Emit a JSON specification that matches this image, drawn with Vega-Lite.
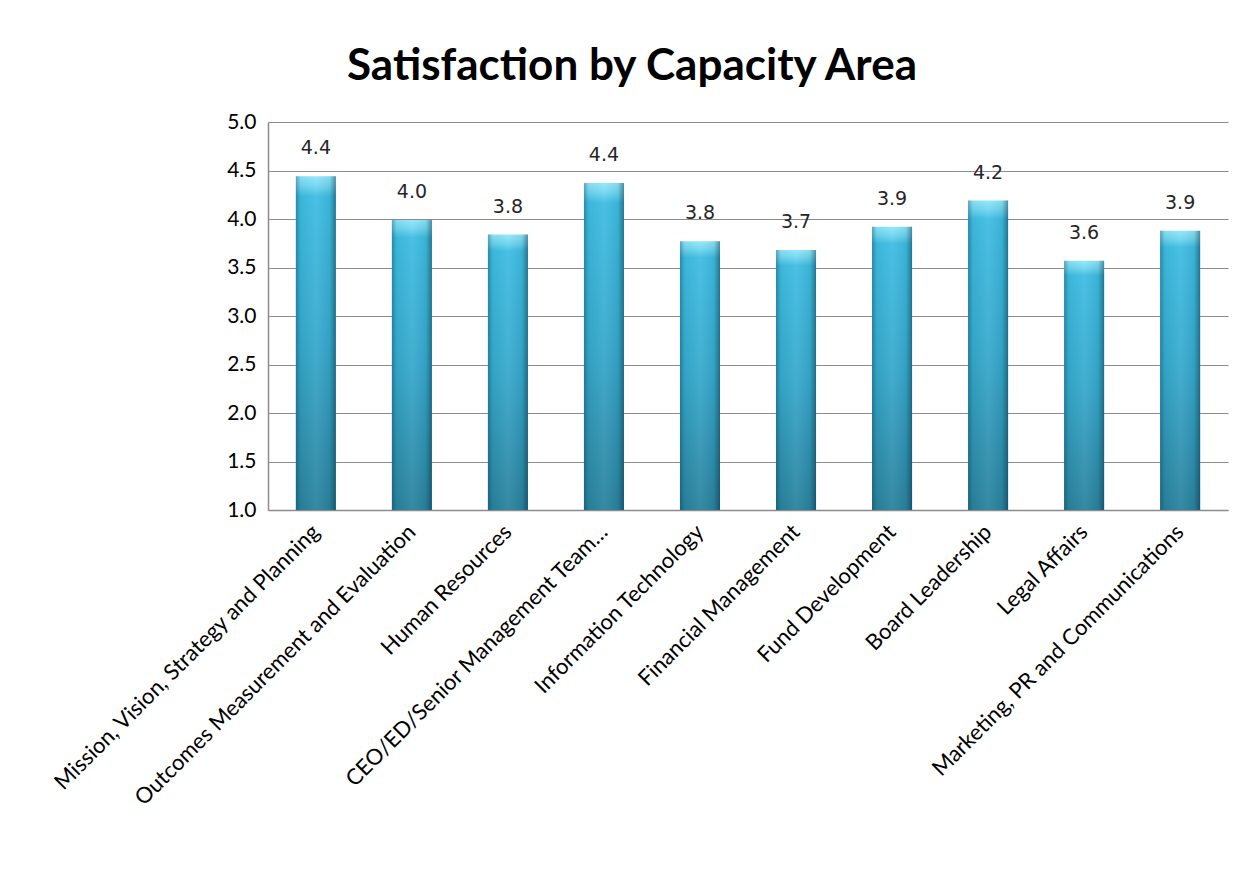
{
  "$schema": "https://vega.github.io/schema/vega-lite/v6.json",
  "autosize": {"type": "none"},
  "width": 960,
  "height": 388,
  "padding": {"left": 268, "top": 122, "right": 18, "bottom": 381},
  "background": "white",
  "title": {
    "text": "Satisfaction by Capacity Area",
    "anchor": "middle",
    "frame": "group",
    "dx": -116,
    "offset": 22,
    "font": "Lato",
    "fontSize": 44,
    "fontWeight": "bold",
    "color": "#000000"
  },
  "data": {
    "values": [
      {"area": "Mission, Vision, Strategy and Planning", "score": 4.44},
      {"area": "Outcomes Measurement and Evaluation", "score": 3.99},
      {"area": "Human Resources", "score": 3.84},
      {"area": "CEO/ED/Senior Management Team…", "score": 4.37},
      {"area": "Information Technology", "score": 3.77},
      {"area": "Financial Management", "score": 3.68},
      {"area": "Fund Development", "score": 3.92},
      {"area": "Board Leadership", "score": 4.19},
      {"area": "Legal Affairs", "score": 3.57},
      {"area": "Marketing, PR and Communications", "score": 3.88}
    ]
  },
  "encoding": {
    "x": {
      "field": "area",
      "type": "nominal",
      "sort": null,
      "scale": {"paddingInner": 0.583, "paddingOuter": 0.29},
      "axis": {
        "title": null,
        "labelAngle": -45,
        "labelAlign": "right",
        "labelBaseline": "middle",
        "labelFont": "Lato",
        "labelFontSize": 22,
        "labelColor": "#000000",
        "labelLimit": 0,
        "labelPadding": 18,
        "ticks": false,
        "domainColor": "#8c8c8c",
        "domainWidth": 1.5
      }
    },
    "y": {
      "field": "score",
      "type": "quantitative",
      "scale": {"domain": [1, 5], "zero": false, "nice": false},
      "axis": {
        "title": null,
        "values": [1, 1.5, 2, 2.5, 3, 3.5, 4, 4.5, 5],
        "format": ".1f",
        "labelFont": "Lato",
        "labelFontSize": 21,
        "labelColor": "#000000",
        "labelPadding": 12,
        "ticks": false,
        "grid": true,
        "gridColor": "#8c8c8c",
        "gridWidth": 1.2,
        "domainColor": "#8c8c8c",
        "domainWidth": 1.5
      }
    }
  },
  "layer": [
    {
      "mark": {
        "type": "bar",
        "clip": true,
        "color": {
          "gradient": "linear",
          "x1": 0, "y1": 0, "x2": 0, "y2": 1,
          "stops": [
            {"offset": 0, "color": "#8fe8fa"},
            {"offset": 0.03, "color": "#6fd6f0"},
            {"offset": 0.06, "color": "#3ebde2"},
            {"offset": 0.5, "color": "#37a9cc"},
            {"offset": 1, "color": "#2a829c"}
          ]
        }
      },
      "encoding": {"y2": {"datum": 1}}
    },
    {
      "mark": {
        "type": "bar",
        "clip": true,
        "color": {
          "gradient": "linear",
          "x1": 0, "y1": 0, "x2": 1, "y2": 0,
          "stops": [
            {"offset": 0, "color": "rgba(0,40,60,0.35)"},
            {"offset": 0.12, "color": "rgba(0,40,60,0.05)"},
            {"offset": 0.5, "color": "rgba(255,255,255,0.06)"},
            {"offset": 0.85, "color": "rgba(0,40,60,0.08)"},
            {"offset": 1, "color": "rgba(0,30,50,0.45)"}
          ]
        }
      },
      "encoding": {"y2": {"datum": 1}}
    },
    {
      "mark": {
        "type": "text",
        "baseline": "bottom",
        "dy": -18,
        "font": "DejaVu Sans",
        "fontSize": 19,
        "color": "#262626"
      },
      "encoding": {
        "text": {"field": "score", "type": "quantitative", "format": ".1f"}
      }
    }
  ],
  "config": {
    "view": {"stroke": null}
  }
}
